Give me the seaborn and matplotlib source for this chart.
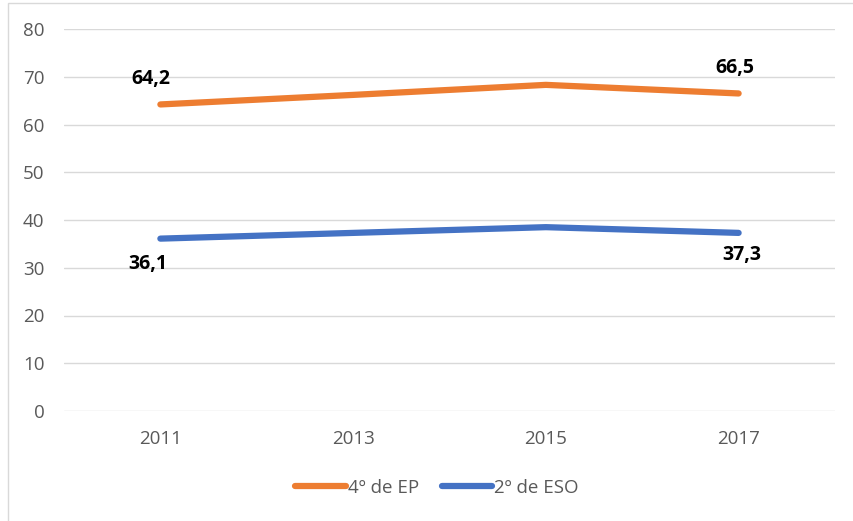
import pandas as pd
import seaborn as sns
import matplotlib.pyplot as plt
from matplotlib.patches import Rectangle

years = ["2011", "2013", "2015", "2017"]
ep4 = [64.2, 66.2, 68.3, 66.5]
eso2 = [36.1, 37.3, 38.5, 37.3]
series_names = ["4º de EP", "2º de ESO"]
colors = ["#ED7D31", "#4472C4"]

df = pd.DataFrame({
    "Año": years * 2,
    "Valor": ep4 + eso2,
    "Serie": [series_names[0]] * 4 + [series_names[1]] * 4,
})

sns.set_style("white")
plt.rcParams["font.family"] = ["Open Sans", "DejaVu Sans"]

fig = plt.figure(figsize=(8.54, 5.21), dpi=100)
ax = fig.add_axes([64 / 854, 1 - 411 / 521, (835 - 64) / 854, (411 - 29) / 521])

sns.lineplot(data=df, x="Año", y="Valor", hue="Serie", palette=colors,
             linewidth=4.5, solid_capstyle="round", ax=ax, legend=False)

ax.set_ylim(0, 80)
ax.set_yticks(range(0, 81, 10))
ax.set_xlim(-0.5, 3.5)
ax.grid(axis="y", color="#D9D9D9", linewidth=1)
ax.set_axisbelow(True)
for s in ax.spines.values():
    s.set_visible(False)
ax.tick_params(length=0, labelsize=13.5, colors="#595959")
ax.tick_params(axis="x", pad=14)
ax.tick_params(axis="y", pad=14)
ax.set_xlabel("")
ax.set_ylabel("")

# etiquetas de datos
def lab(i, v, dy, dx=0):
    ax.annotate(f"{v}".replace(".", ","), (i, v), xytext=(dx, dy), textcoords="offset points",
                ha="center", va="center", fontsize=14, fontweight="bold", color="black")

lab(0, ep4[0], 18, -7)
lab(3, ep4[3], 18, -3)
lab(0, eso2[0], -18, -9)
lab(3, eso2[3], -16, 2)

handles = [plt.Line2D([], [], color=c, linewidth=4.5, solid_capstyle="round") for c in colors]
fig.legend(handles, series_names, loc="center", bbox_to_anchor=(437 / 854, 1 - 488 / 521),
           ncol=2, frameon=False, fontsize=13.5, handlelength=2.7, handletextpad=0.1,
           columnspacing=1.2, labelcolor="#595959")

fig.patches.append(Rectangle((8 / 854, -0.01), 1.0, 1 - 3 / 521 + 0.01, transform=fig.transFigure,
                             fill=False, edgecolor="#D9D9D9", linewidth=1))

fig.savefig("out.png", dpi=100)
